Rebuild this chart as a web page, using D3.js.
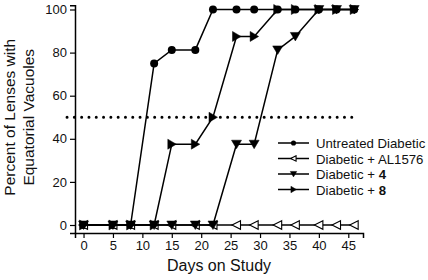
<!DOCTYPE html>
<html>
<head>
<meta charset="utf-8">
<script src="https://cdn.jsdelivr.net/npm/d3@7"></script>
<style>
  html, body { margin: 0; padding: 0; background: #fff; }
  svg { display: block; font-family: Arial, "Liberation Sans", sans-serif; }
</style>
</head>
<body>
<div id="chart"></div>
<script>
// ---- Data ----
const days = [0, 5, 8, 12, 15, 19, 22, 26, 29, 33, 36, 40, 43, 46];
const untreated = [0, 0, 0, 75, 81.25, 81.25, 100, 100, 100, 100, 100, 100, 100, 100];
const al1576 = [0, 0, 0, 0, 0, 0, 0, 0, 0, 0, 0, 0, 0, 0];
const cmpd4 = [0, 0, 0, 0, 0, 0, 0, 37.5, 37.5, 81.25, 87.5, 100, 100, 100];
const cmpd8 = [0, 0, 0, 0, 37.5, 37.5, 50, 87.5, 87.5, 100, 100, 100, 100, 100];
const xTicks = [0, 5, 10, 15, 20, 25, 30, 35, 40, 45];
const xMinor = [2.5, 7.5, 12.5, 17.5, 22.5, 27.5, 32.5, 37.5, 42.5, 47.5];
const yTicks = [0, 20, 40, 60, 80, 100];
const yMinor = [10, 30, 50, 70, 90];
const refLevel = 50;
const refSpan = [-2.8, 46.7];

const series = [
  { name: "Untreated Diabetic", bold: "", values: untreated, marker: "circle" },
  { name: "Diabetic + AL1576", bold: "", values: al1576, marker: "openLeft" },
  { name: "Diabetic + ", bold: "4", values: cmpd4, marker: "down" },
  { name: "Diabetic + ", bold: "8", values: cmpd8, marker: "right" },
];

const W = 428, H = 280;
const svg = d3.select("#chart").append("svg").attr("width", W).attr("height", H);
svg.append("rect").attr("width", W).attr("height", H).attr("fill", "#fff");

// ---- Scales ----
const x = d3.scaleLinear().domain([-1.45, 47.5]).range([75, 363]);
const y = d3.scaleLinear().domain([0, 100]).range([225, 9.5]);
const yAxisScale = y.copy().domain([-3.7, 102]).range([y(-3.7), y(102)]);
const axisY = y(-3.7);

// ---- Axes ----
const gx = svg.append("g").attr("transform", `translate(0,${axisY})`);
gx.call(d3.axisBottom(x).tickValues(xMinor).tickSize(3).tickFormat(""));
gx.call(d3.axisBottom(x).tickValues(xTicks).tickSize(5).tickPadding(3).tickFormat(d3.format("d")));
gx.selectAll(".domain").attr("stroke-width", 1.5);
gx.selectAll(".tick line").attr("stroke-width", 1.2);
gx.selectAll(".tick text").style("font-size", "13px").attr("fill", "#111");

const gy = svg.append("g").attr("transform", `translate(${x(-1.45)},0)`);
gy.call(d3.axisLeft(yAxisScale).tickValues(yMinor).tickSize(3).tickFormat(""));
gy.call(d3.axisLeft(yAxisScale).tickValues(yTicks).tickSize(5).tickPadding(3).tickFormat(d3.format("d")));
gy.selectAll(".domain").attr("stroke-width", 1.5);
gy.selectAll(".tick line").attr("stroke-width", 1.2);
gy.selectAll(".tick text").style("font-size", "13px").attr("fill", "#111");

// ---- Axis titles ----
svg.append("text")
  .attr("x", (x(-1.45) + x(47.5)) / 2).attr("y", 271)
  .attr("text-anchor", "middle")
  .style("font-size", "16px").attr("fill", "#111")
  .text("Days on Study");

const yt = svg.append("text")
  .attr("transform", `translate(15,${y(50)}) rotate(-90)`)
  .attr("text-anchor", "middle")
  .style("font-size", "15.5px").attr("fill", "#111");
yt.append("tspan").attr("x", 0).attr("dy", 0).text("Percent of Lenses with");
yt.append("tspan").attr("x", 0).attr("dy", 19).text("Equatorial Vacuoles");

// ---- Dotted 50% reference line ----
svg.append("line")
  .attr("x1", x(refSpan[0])).attr("x2", x(refSpan[1]))
  .attr("y1", y(refLevel)).attr("y2", y(refLevel))
  .attr("stroke", "#000")
  .attr("stroke-width", 3)
  .attr("stroke-linecap", "round")
  .attr("stroke-dasharray", "0,7.3");

// ---- Marker shapes ----
function markerPath(type, s) {
  if (type === "down") return `M${-s},${-s * 0.8}L${s},${-s * 0.8}L0,${s * 0.9}Z`;
  if (type === "right") return `M${-s * 0.8},${-s}L${s * 0.9},0L${-s * 0.8},${s}Z`;
  if (type === "openLeft") return `M${s * 0.8},${-s * 0.85}L${-s * 0.9},0L${s * 0.8},${s * 0.85}Z`;
  return null;
}

function drawMarker(g, type, cx, cy, s) {
  if (type === "circle") {
    g.append("circle").attr("cx", cx).attr("cy", cy).attr("r", s * 0.8).attr("fill", "#000");
  } else {
    g.append("path")
      .attr("transform", `translate(${cx},${cy})`)
      .attr("d", markerPath(type, s))
      .attr("fill", type === "openLeft" ? "#fff" : "#000")
      .attr("stroke", "#000")
      .attr("stroke-width", type === "openLeft" ? 1.1 : 0.5)
      .attr("stroke-linejoin", "miter");
  }
}

// ---- Lines + markers ----
const line = d3.line().x((d, i) => x(days[i])).y(d => y(d));

series.forEach(s => {
  const g = svg.append("g");
  g.append("path")
    .datum(s.values)
    .attr("d", line)
    .attr("fill", "none")
    .attr("stroke", "#000")
    .attr("stroke-width", 1.5);
  s.values.forEach((v, i) => drawMarker(g, s.marker, x(days[i]), y(v), 5));
});

// ---- Legend ----
const legend = svg.append("g");
series.forEach((s, i) => {
  const ly = 143 + i * 15.5;
  legend.append("line")
    .attr("x1", 278).attr("x2", 309)
    .attr("y1", ly).attr("y2", ly)
    .attr("stroke", "#000").attr("stroke-width", 1.5);
  drawMarker(legend, s.marker, 293.5, ly, 3.2);
  const t = legend.append("text")
    .attr("x", 316).attr("y", ly + 5)
    .style("font-size", "13.2px").attr("fill", "#111");
  t.append("tspan").text(s.name);
  if (s.bold) t.append("tspan").style("font-weight", "bold").text(s.bold);
});
</script>
</body>
</html>
